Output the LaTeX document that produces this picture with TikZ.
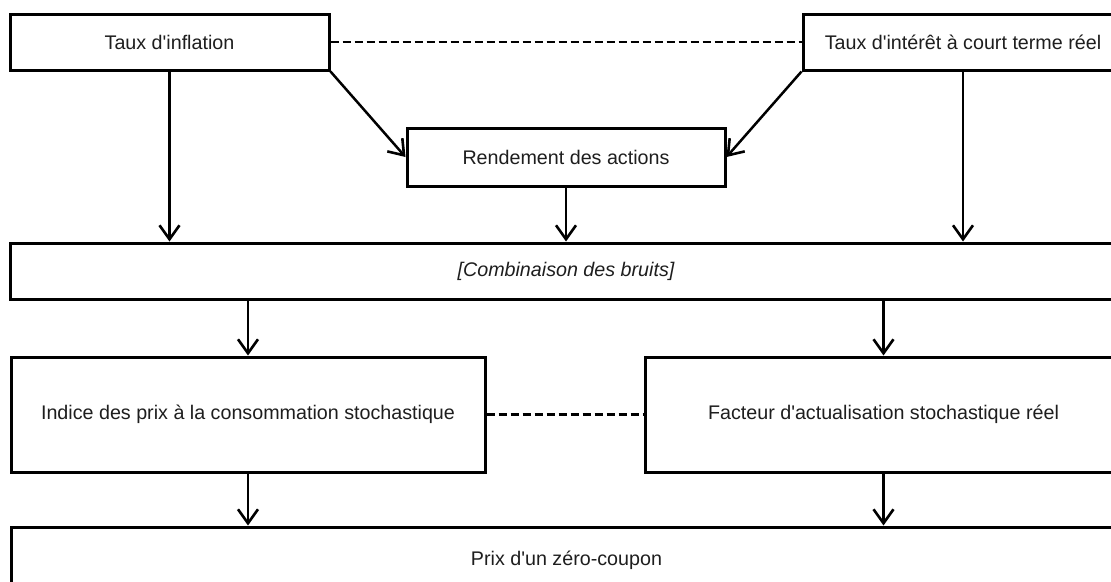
\documentclass[tikz,border=0pt]{standalone}
\usepackage{fontspec}
\setmainfont{Liberation Sans}
\usetikzlibrary{arrows.meta}

\definecolor{ink}{HTML}{1E1E1E}
% straight typewriter apostrophe
\newcommand{\ap}{\textquotesingle}

\tikzset{
  box/.style={draw=black, line width=3pt, fill=white, inner sep=0pt,
    text=ink, font=\fontsize{19.7}{22}\selectfont},
  flow/.style={line width=2.5pt, -{Straight Barb[length=14pt,width=20pt,line width=2.6pt]}},
  link/.style={line width=2.8pt, dash pattern=on 8pt off 4pt},
}

\begin{document}
\begin{tikzpicture}[x=1pt, y=-1pt]
  \useasboundingbox (0,0) rectangle (1111,581);
  \fill[white] (0,0) rectangle (1111,581);

  % top row of inputs
  \node[box, minimum width=319pt, minimum height=56pt] (infl) at (169.5,42) {Taux d\ap inflation};
  \node[box, minimum width=320pt, minimum height=56pt] (int) at (963,42) {Taux d\ap intérêt à court terme réel};
  \node[box, minimum width=318pt, minimum height=58pt] (rend) at (566,157) {Rendement des actions};

  % noise combination
  \node[box, minimum width=1112pt, minimum height=56pt] (comb) at (566,271) {\itshape [Combinaison des bruits]};

  % stochastic outputs
  \node[box, minimum width=474pt, minimum height=115pt] (ipc) at (248,414.5) {Indice des prix à la consommation stochastique};
  \node[box, minimum width=477pt, minimum height=115pt] (fact) at (883.5,414.5) {Facteur d\ap actualisation stochastique réel};

  % bond price
  \node[box, minimum width=1111pt, minimum height=66pt] (prix) at (566.5,560) {Prix d\ap un zéro-coupon};

  % dashed correlations
  \draw[link] (infl.east) -- (int.west);
  \draw[link] (ipc.east) -- (fact.west);

  % arrows
  \draw[flow] (infl.south east) -- (rend.west);
  \draw[flow] (int.south west) -- (rend.east);
  \draw[flow] (infl.south) -- (infl.south |- comb.north);
  \draw[flow] (rend.south) -- (rend.south |- comb.north);
  \draw[flow] (int.south) -- (int.south |- comb.north);
  \draw[flow] (ipc.north |- comb.south) -- (ipc.north);
  \draw[flow] (fact.north |- comb.south) -- (fact.north);
  \draw[flow] (ipc.south) -- (ipc.south |- prix.north);
  \draw[flow] (fact.south) -- (fact.south |- prix.north);
\end{tikzpicture}
\end{document}
